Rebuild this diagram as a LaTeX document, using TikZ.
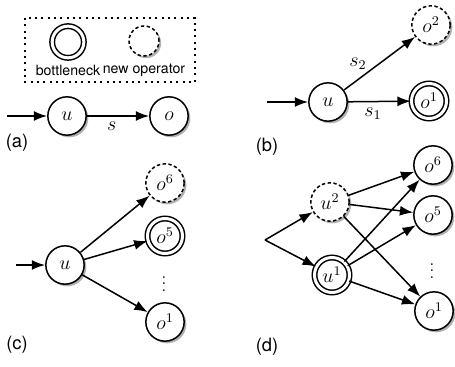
\documentclass[tikz,border=0pt]{standalone}
\usepackage[no-math]{fontspec}
\newfontfamily\helv{TeX Gyre Heros}
\usetikzlibrary{positioning,arrows.meta,shadows}
\definecolor{opLine}{RGB}{0,0,0}
\definecolor{opShade}{RGB}{60,60,60}
\tikzset{
    base/.style={font=\helv},
    op/.style={circle, draw=opLine, line width=0.9pt, fill=white, inner sep=0pt, minimum size=23pt,
               font=\large,
               drop shadow={opacity=0.4, color=opShade, shadow xshift=1.3pt, shadow yshift=-1.3pt}},
    bneck/.style={op, double, double distance=1.8pt, minimum size=21pt},
    newop/.style={op, dash pattern=on 2pt off 1.5pt},
    flow/.style={-{Latex[length=8pt,width=6pt]}, line width=0.9pt, color=opLine},
    elabel/.style={font=\large, inner sep=2pt},
    tag/.style={font=\helv\fontsize{11}{13}\selectfont},
    legend/.style={font=\helv\fontsize{8.5}{10}\selectfont},
    legendbox/.style={thick, dash pattern=on 1.2pt off 2.6pt}
}
\begin{document}
\begin{tikzpicture}[x=0.6pt, y=-0.6pt]
  \useasboundingbox (0,0) rectangle (455,366);

  % Legend
  \draw[legendbox] (25,18) rectangle (195,82);
  \node[bneck, minimum size=19pt] (lgbn) at (68,42) {};
  \node[newop, minimum size=18pt] (lgno) at (144,41) {};
  \node[legend] (lgbntext) at (68,70) {bottleneck};
  \node[legend] (lgnotext) at (144,70) {new operator};

  % (a) a single edge
  \coordinate (ina) at (7,116);
  \node[op] (ua) at (67,116) {$u$};
  \node[op] (oa) at (169,116) {$o$};
  \draw[flow] (ina) -- (ua);
  \draw[flow] (ua) -- node[elabel, below=1pt, pos=0.4] {$s$} (oa);
  \node[tag] (taga) at (17,143) {(a)};

  % (b) a new operator next to the bottleneck
  \coordinate (inb) at (267,102);
  \node[op] (ub) at (328,102) {$u$};
  \node[newop] (o2b) at (431,25) {$o^2$};
  \node[bneck] (o1b) at (429,101) {$o^1$};
  \draw[flow] (inb) -- (ub);
  \draw[flow] (ub) -- node[elabel, below=1.5pt, pos=0.4] {$s_1$} (o1b);
  \draw[flow] (ub) -- node[elabel, above left, pos=0.35, inner sep=1pt] {$s_2$} (o2b);
  \node[tag] (tagb) at (267,147) {(b)};

  % (c) fan out of u
  \coordinate (inc) at (16,265);
  \node[op] (uc) at (65,265) {$u$};
  \node[newop] (o6c) at (165,183) {$o^6$};
  \node[bneck] (o5c) at (165,236) {$o^5$};
  \node[inner sep=0pt] (dotsc) at (164,279) {$\vdots$};
  \node[op] (o1c) at (165,322) {$o^1$};
  \draw[flow] (inc) -- (uc);
  \foreach \t in {o6c,o5c,o1c}
    \draw[flow] (uc) -- (\t);
  \node[tag] (tagc) at (17,345) {(c)};

  % (d) u split in two
  \coordinate (splitd) at (265,240);
  \node[newop] (u2d) at (330,202) {$u^2$};
  \node[bneck] (u1d) at (332,275) {$u^1$};
  \node[op] (o6d) at (433,165) {$o^6$};
  \node[op] (o5d) at (433,215) {$o^5$};
  \node[inner sep=0pt] (dotsd) at (432,266) {$\vdots$};
  \node[op] (o1d) at (434,311) {$o^1$};
  \draw[flow] (splitd) -- (u2d);
  \draw[flow] (splitd) -- (u1d);
  \foreach \s in {u2d,u1d}
    \foreach \t in {o6d,o5d,o1d}
      \draw[flow] (\s) -- (\t);
  \node[tag] (tagd) at (267,347) {(d)};
\end{tikzpicture}
\end{document}
